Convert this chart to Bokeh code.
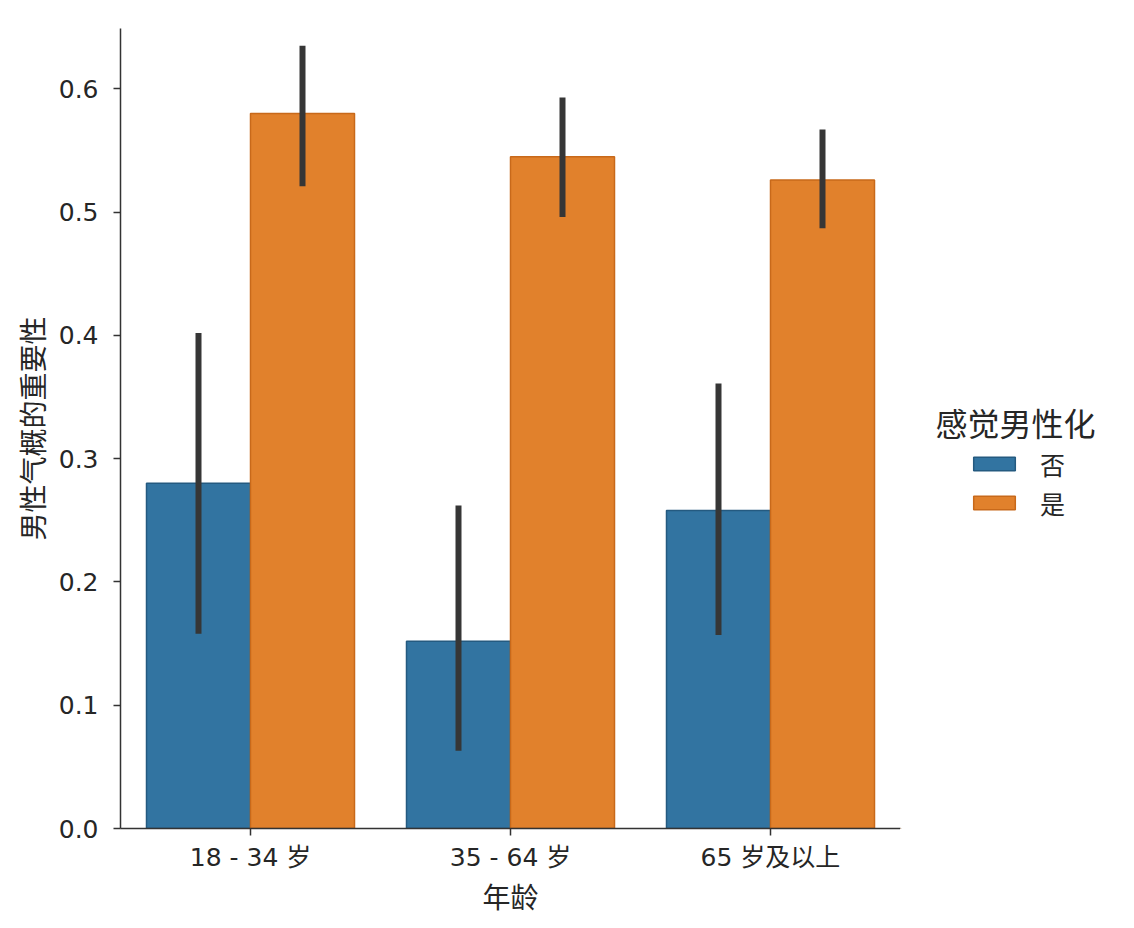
from bokeh.plotting import figure
from bokeh.layouts import row
from bokeh.models import (ColumnDataSource, FactorRange, Range1d, FixedTicker,
                          NumeralTickFormatter, Legend, LegendItem, Label)
from bokeh.transform import dodge
from bokeh.embed import file_html
from bokeh.resources import INLINE

# ---- data ----
ages = ["18 - 34 岁", "35 - 64 岁", "65 岁及以上"]
hues = ["否", "是"]
legend_title = "感觉男性化"
no_mean = [0.280, 0.152, 0.258]
no_lo = [0.158, 0.063, 0.157]
no_hi = [0.402, 0.262, 0.361]
yes_mean = [0.580, 0.545, 0.526]
yes_lo = [0.521, 0.496, 0.487]
yes_hi = [0.635, 0.593, 0.567]
y_ticks = [0.0, 0.1, 0.2, 0.3, 0.4, 0.5, 0.6]

FONT = "DejaVu Sans, Noto Sans CJK SC"
TXT = "#262626"
BLUE, BLUE_EDGE = "#3274a1", "#245a80"
ORANGE, ORANGE_EDGE = "#e1812c", "#c8691a"
ERR = "#363636"
H = 926

src = ColumnDataSource(dict(age=ages, no_mean=no_mean, no_lo=no_lo, no_hi=no_hi,
                            yes_mean=yes_mean, yes_lo=yes_lo, yes_hi=yes_hi))

p = figure(width=900, height=H, output_backend="svg", toolbar_location=None,
           x_range=FactorRange(factors=ages, range_padding=0),
           y_range=Range1d(0, 0.649))
p.min_border_left = 120
p.min_border_top = 28
p.min_border_right = 0
p.min_border_bottom = 98
p.outline_line_color = None
p.xgrid.visible = False
p.ygrid.visible = False
p.background_fill_color = "white"
p.border_fill_color = "white"

r_no = p.vbar(x=dodge("age", -0.2, range=p.x_range), top="no_mean", bottom=0, width=0.4,
              source=src, fill_color=BLUE, line_color=BLUE_EDGE, line_width=1.5)
r_yes = p.vbar(x=dodge("age", 0.2, range=p.x_range), top="yes_mean", bottom=0, width=0.4,
               source=src, fill_color=ORANGE, line_color=ORANGE_EDGE, line_width=1.5)

p.segment(x0=dodge("age", -0.2, range=p.x_range), x1=dodge("age", -0.2, range=p.x_range),
          y0="no_lo", y1="no_hi", source=src, line_color=ERR, line_width=6)
p.segment(x0=dodge("age", 0.2, range=p.x_range), x1=dodge("age", 0.2, range=p.x_range),
          y0="yes_lo", y1="yes_hi", source=src, line_color=ERR, line_width=6)

# axes
for ax in (p.xaxis[0], p.yaxis[0]):
    ax.axis_line_color = "#333333"
    ax.axis_line_width = 1.5
    ax.major_tick_line_color = "#333333"
    ax.major_tick_line_width = 1.5
    ax.major_tick_out = 7
    ax.major_tick_in = 0
    ax.minor_tick_line_color = None
    ax.major_label_text_font = FONT
    ax.major_label_text_font_size = "25px"
    ax.major_label_text_color = TXT
    ax.axis_label_text_font = FONT
    ax.axis_label_text_font_size = "28px"
    ax.axis_label_text_font_style = "normal"
    ax.axis_label_text_color = TXT

p.xaxis.axis_label = "年龄"
p.yaxis.axis_label = "男性气概的重要性"
p.xaxis.major_label_standoff = 7
p.xaxis.axis_label_standoff = 7
p.yaxis.major_label_standoff = 15
p.yaxis.axis_label_standoff = 5
p.yaxis.ticker = FixedTicker(ticks=y_ticks)
p.yaxis.formatter = NumeralTickFormatter(format="0.0")

# ---- legend area to the right of the axes ----
lg = figure(width=230, height=H, output_backend="svg", toolbar_location=None,
            x_range=Range1d(0, 1), y_range=Range1d(0, 1),
            x_axis_location=None, y_axis_location=None, min_border=0)
lg.outline_line_color = None
lg.xgrid.visible = False
lg.ygrid.visible = False
lg.background_fill_color = "white"
lg.border_fill_color = "white"

# swatch renderers (kept outside the visible range; only their legend glyphs show)
sw_no = lg.vbar(x=[-5.0], top=[-5.0], bottom=[-5.0], width=0.4,
                fill_color=BLUE, line_color=BLUE_EDGE, line_width=1.5)
sw_yes = lg.vbar(x=[-5.0], top=[-5.0], bottom=[-5.0], width=0.4,
                 fill_color=ORANGE, line_color=ORANGE_EDGE, line_width=1.5)

legend = Legend(items=[LegendItem(label=hues[0], renderers=[sw_no]),
                       LegendItem(label=hues[1], renderers=[sw_yes])],
                location=(68, 306), orientation="vertical",
                glyph_width=52, glyph_height=17, label_height=39, spacing=0,
                label_standoff=20, padding=0, margin=0,
                label_text_font=FONT, label_text_font_size="25px", label_text_color=TXT,
                border_line_color=None, background_fill_alpha=0)
lg.add_layout(legend)

title = Label(x=115, y=404, x_units="screen", y_units="screen", text=legend_title,
              text_align="center", text_baseline="middle",
              text_font=FONT, text_font_size="32px", text_color=TXT)
lg.add_layout(title)

layout = row(p, lg, spacing=0)
open("out.html", "w").write(file_html(layout, INLINE))
